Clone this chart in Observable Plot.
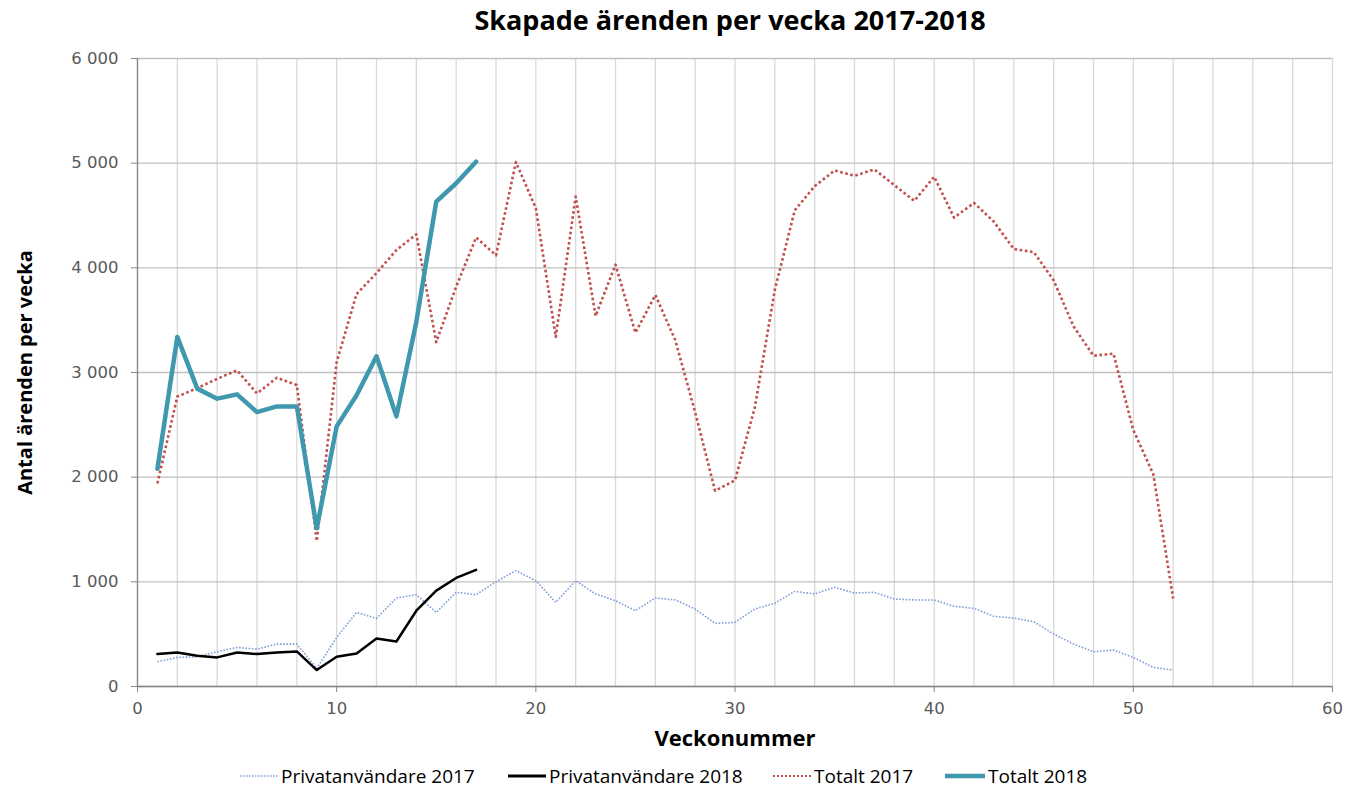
<!DOCTYPE html>
<html>
<head>
<meta charset="utf-8">
<script src="https://cdn.jsdelivr.net/npm/d3@7"></script>
<script src="https://cdn.jsdelivr.net/npm/@observablehq/plot@0.6"></script>
<style>
  html, body { margin: 0; padding: 0; background: #fff; }
  #wrap { position: relative; width: 1345px; height: 787px; }
  #title { position: absolute; left: 0; top: 1px; width: 1345px; text-align: center;
    font: bold 27px "Open Sans", sans-serif; color: #000; padding-left: 115px; box-sizing: border-box; }
  #chart { position: absolute; left: 0; top: 40px; }
  .leg { position: absolute; top: 765px; height: 21px; line-height: 21px; display: flex; align-items: center;
    font: 19px "Open Sans", sans-serif; color: #000; white-space: nowrap; }
  .leg svg { margin-right: 3px; }
</style>
</head>
<body>
<div id="wrap">
  <div id="title">Skapade ärenden per vecka 2017-2018</div>
  <div id="chart"></div>
  <div class="leg" style="left:240px"><svg width="38" height="10"><line x1="0" x2="38" y1="5" y2="5" stroke="#7f9fd4" stroke-width="1.5" stroke-dasharray="1.5,1.5"/></svg><span>Privatanvändare 2017</span></div>
  <div class="leg" style="left:508px"><svg width="38" height="10"><line x1="0" x2="38" y1="5" y2="5" stroke="#000" stroke-width="3"/></svg><span>Privatanvändare 2018</span></div>
  <div class="leg" style="left:773px"><svg width="38" height="10"><line x1="0" x2="38" y1="5" y2="5" stroke="#c0504d" stroke-width="2" stroke-dasharray="2,2"/></svg><span>Totalt 2017</span></div>
  <div class="leg" style="left:945px"><svg width="40" height="10"><line x1="0" x2="40" y1="5" y2="5" stroke="#3f98ae" stroke-width="4.5"/></svg><span>Totalt 2018</span></div>
</div>
<script>
const weeks2017 = [1,2,3,4,5,6,7,8,9,10,11,12,13,14,15,16,17,18,19,20,21,22,23,24,25,26,27,28,29,30,31,32,33,34,35,36,37,38,39,40,41,42,43,44,45,46,47,48,49,50,51,52];
const weeks2018 = [1,2,3,4,5,6,7,8,9,10,11,12,13,14,15,16,17];

const privat2017 = [236,278,284,332,373,357,405,405,172,469, 708,651,846,877,708,900,877,1000,1107,1011, 804,1011,884,820,724,846,827,740,603,613, 740,795,909,884,948,893,900,836,827,827, 766,747,670,654,619,501,405,332,348,278, 182,157];
const privat2018 = [310,325,293,278,325,310,325,335,157,284,316,459,430,724,916,1037,1114];
const totalt2017 = [1940,2770,2850,2940,3020,2800,2950,2880,1390,3100, 3750,3950,4170,4320,3290,3820,4290,4120,5010,4570, 3340,4680,3540,4030,3380,3740,3310,2620,1870,1970, 2670,3790,4550,4780,4930,4880,4940,4790,4640,4870, 4480,4620,4440,4180,4150,3880,3440,3160,3180,2450, 2030,840];
const totalt2018 = [2080,3340,2846,2750,2791,2622,2676,2676,1512,2485,2782,3155,2581,3483,4632,4808,5014];

const xTicks = [0,10,20,30,40,50,60];
const yTicks = [0,1000,2000,3000,4000,5000,6000];
const xGrid = [0,2,4,6,8,10,12,14,16,18,20,22,24,26,28,30,32,34,36,38,40,42,44,46,48,50,52,54,56,58,60];

const toRows = (weeks, vals) => weeks.map((w, i) => ({w, v: vals[i]}));
const fmt = d => d3.format(",")(d).replace(/,/g, " ");

const chart = Plot.plot({
  width: 1345,
  height: 720,
  marginLeft: 137,
  marginRight: 13,
  marginTop: 18,
  marginBottom: 74,
  style: { fontFamily: "DejaVu Sans, sans-serif", fontSize: "16.5px", color: "#595959", background: "#fff" },
  x: { domain: [0, 60] },
  y: { domain: [0, 6000] },
  marks: [
    Plot.gridX(xGrid, { stroke: "#d9d9d9", strokeOpacity: 1, strokeWidth: 1.3 }),
    Plot.gridY(yTicks, { stroke: "#bfbfbf", strokeOpacity: 1, strokeWidth: 1.3 }),
    Plot.ruleX([0], { stroke: "#868686", strokeWidth: 1.3 }),
    Plot.ruleY([0], { stroke: "#868686", strokeWidth: 1.3 }),
    Plot.axisX({ ticks: xTicks, tickSize: 6, tickPadding: 10, label: null, stroke: "#868686", fill: "#595959", fontSize: 16.5 }),
    Plot.axisY({ ticks: yTicks, tickSize: 6, tickPadding: 13, tickFormat: fmt, label: null, stroke: "#868686", fill: "#595959", fontSize: 16.5 }),
    Plot.line(toRows(weeks2017, privat2017), { x: "w", y: "v", stroke: "#7f9fd4", strokeWidth: 1.6, strokeDasharray: "1.6,1.6", strokeLinecap: "butt" }),
    Plot.line(toRows(weeks2017, totalt2017), { x: "w", y: "v", stroke: "#c0504d", strokeWidth: 2.6, strokeDasharray: "2.6,2.6", strokeLinecap: "butt" }),
    Plot.line(toRows(weeks2018, privat2018), { x: "w", y: "v", stroke: "#000", strokeWidth: 2.5 }),
    Plot.line(toRows(weeks2018, totalt2018), { x: "w", y: "v", stroke: "#3f98ae", strokeWidth: 4.5 }),
    Plot.text(["Antal ärenden per vecka"], { frameAnchor: "left", dx: -112, rotate: -90, textAnchor: "middle", text: d => d, fontSize: 20, fontWeight: "bold", fill: "#000", fontFamily: "Open Sans, sans-serif" }),
    Plot.text(["Veckonummer"], { frameAnchor: "bottom", dy: 59, text: d => d, fontSize: 22, fontWeight: "bold", fill: "#000", fontFamily: "Open Sans, sans-serif" })
  ]
});
document.getElementById("chart").appendChild(chart);
</script>
</body>
</html>
